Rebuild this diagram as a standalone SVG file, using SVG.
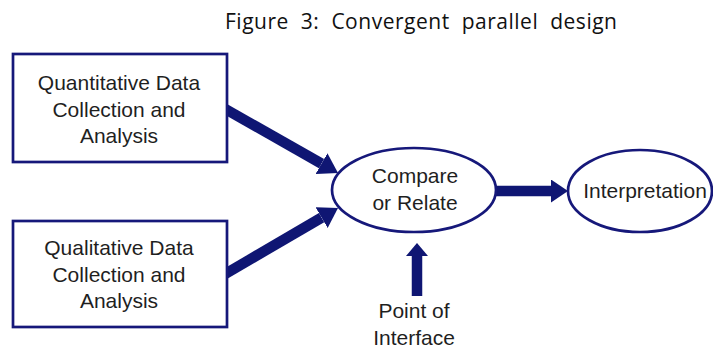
<svg xmlns="http://www.w3.org/2000/svg" width="713" height="349" viewBox="0 0 713 349">
<style>
.node{fill:#ffffff;stroke:#16187a;stroke-width:2.7}
.lbl{font-family:"Liberation Sans",Arial,sans-serif;font-size:21px;fill:#1f1f1f;text-anchor:middle}
.title{font-family:"Open Sans","Liberation Sans",sans-serif;font-size:21px;fill:#111111;word-spacing:6px}
.conn{stroke:#0f1673;stroke-width:10.5;fill:none}
.head{fill:#0f1673}
</style>
<defs>
<marker id="ahD" markerUnits="userSpaceOnUse" markerWidth="19" markerHeight="24" viewBox="0 0 19 24" refX="0" refY="12" orient="auto"><path class="head" d="M0,0 L19,12 L0,24 z"/></marker>
<marker id="ahH" markerUnits="userSpaceOnUse" markerWidth="17" markerHeight="23" viewBox="0 0 17 23" refX="0" refY="11.5" orient="auto"><path class="head" d="M0,0 L17,11.5 L0,23 z"/></marker>
<marker id="ahV" markerUnits="userSpaceOnUse" markerWidth="13" markerHeight="22" viewBox="0 0 13 22" refX="0" refY="11" orient="auto"><path class="head" d="M0,0 L13,11 L0,22 z"/></marker>
</defs>
<rect width="713" height="349" fill="#ffffff"/>
<text class="title" x="225" y="29" textLength="392" lengthAdjust="spacing">Figure 3: Convergent parallel design</text>
<g id="connectors">
<line class="conn" x1="220" y1="106" x2="321.5" y2="163.6" marker-end="url(#ahD)"/>
<line class="conn" x1="220" y1="277" x2="321.6" y2="217.6" marker-end="url(#ahD)"/>
<line class="conn" x1="490" y1="191" x2="551" y2="191" marker-end="url(#ahH)"/>
<line class="conn" x1="417" y1="296" x2="417" y2="256" marker-end="url(#ahV)"/>
</g>
<g id="quant">
<rect class="node" x="13" y="54" width="214" height="108"/>
<text class="lbl" x="119" y="90">Quantitative Data</text>
<text class="lbl" x="119" y="117">Collection and</text>
<text class="lbl" x="119" y="143">Analysis</text>
</g>
<g id="qual">
<rect class="node" x="13" y="221" width="214" height="106"/>
<text class="lbl" x="119" y="255">Qualitative Data</text>
<text class="lbl" x="119" y="282">Collection and</text>
<text class="lbl" x="119" y="308">Analysis</text>
</g>
<g id="compare">
<ellipse class="node" cx="414" cy="190" rx="82" ry="42"/>
<text class="lbl" x="415" y="183">Compare</text>
<text class="lbl" x="415" y="210">or Relate</text>
</g>
<g id="interpretation">
<ellipse class="node" cx="640" cy="191" rx="72" ry="41"/>
<text class="lbl" x="645" y="198">Interpretation</text>
</g>
<g id="point">
<text class="lbl" x="414" y="318">Point of</text>
<text class="lbl" x="414" y="345">Interface</text>
</g>
</svg>
